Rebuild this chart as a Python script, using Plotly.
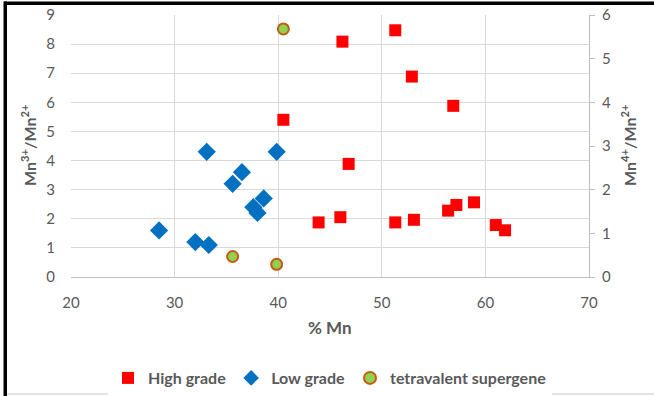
import plotly.graph_objects as go

# High grade (Mn4+/Mn2+, right axis)
high_mn = [40.5, 43.9, 46.0, 46.2, 46.8, 51.3, 51.3, 52.9, 53.1, 56.4, 56.9, 57.2, 58.9, 61.0, 61.9]
high_ratio = [3.6, 1.25, 1.37, 5.39, 2.59, 5.65, 1.25, 4.59, 1.31, 1.52, 3.92, 1.65, 1.71, 1.19, 1.07]

# Low grade (Mn3+/Mn2+, left axis)
low_mn = [28.5, 32.0, 33.3, 33.1, 35.6, 36.5, 37.6, 38.0, 38.6, 39.85]
low_ratio = [1.6, 1.2, 1.1, 4.3, 3.2, 3.6, 2.4, 2.2, 2.7, 4.3]

# Tetravalent supergene (right axis)
sup_mn = [35.6, 39.85, 40.5]
sup_ratio = [0.47, 0.29, 5.68]

grey = "#595959"
font = "Lato, 'Open Sans', sans-serif"

fig = go.Figure()
fig.add_trace(go.Scatter(
    x=high_mn, y=high_ratio, yaxis="y2", mode="markers", name="High grade",
    marker=dict(symbol="square", size=12, color="#ff0000"),
))
fig.add_trace(go.Scatter(
    x=low_mn, y=low_ratio, mode="markers", name="Low grade",
    marker=dict(symbol="diamond", size=14, color="#0070c0"),
))
fig.add_trace(go.Scatter(
    x=sup_mn, y=sup_ratio, yaxis="y2", mode="markers", name="tetravalent supergene",
    marker=dict(symbol="circle", size=11, color="#92d050",
                line=dict(color="#c55a11", width=2)),
))

# pixel -> paper helpers (plot area spans x 71..589, y 15..277)
W, H = 518.0, 262.0
def px(x):
    return (x - 71) / W
def py(y):
    return (277 - y) / H

# chart frame: black top/left edge, grey bottom edge
shapes = [
    dict(type="rect", xref="paper", yref="paper", x0=px(4), x1=px(654), y0=py(1.5), y1=py(5),
         line=dict(width=0), fillcolor="black", layer="above"),
    dict(type="rect", xref="paper", yref="paper", x0=px(3.5), x1=px(7), y0=py(1.5), y1=py(396),
         line=dict(width=0), fillcolor="black", layer="above"),
    dict(type="line", xref="paper", yref="paper", x0=px(7), x1=px(654), y0=py(394), y1=py(394),
         line=dict(color="#c8c8c8", width=1)),
]

title_font = dict(size=16, color=grey, family=font)
annotations = [
    dict(text="<b>% Mn</b>", xref="paper", yref="paper", x=px(330), y=py(327),
         xanchor="center", yanchor="middle",
         showarrow=False, font=dict(size=17, color=grey, family=font)),
    dict(text="<b>Mn<sup>3+</sup>/Mn<sup>2+</sup></b>", xref="paper", yref="paper",
         x=px(28), y=py(146), xanchor="center", yanchor="middle",
         textangle=-90, showarrow=False, font=title_font),
    dict(text="<b>Mn<sup>4+</sup>/Mn<sup>2+</sup></b>", xref="paper", yref="paper",
         x=px(628), y=py(146), xanchor="center", yanchor="middle",
         textangle=-90, showarrow=False, font=title_font),
]

fig.update_layout(
    width=654, height=396,
    margin=dict(l=71, r=65, t=15, b=119, autoexpand=False),
    paper_bgcolor="white", plot_bgcolor="white",
    font=dict(family=font, color=grey, size=15),
    showlegend=True,
    legend=dict(orientation="h", x=0.5, xanchor="center", y=py(378), yanchor="middle",
                font=dict(size=16, color=grey, family=font, weight="bold"),
                itemsizing="constant", itemwidth=30),
    shapes=shapes,
    annotations=annotations,
    xaxis=dict(
        range=[20, 70], dtick=10, showgrid=True, gridcolor="#d9d9d9",
        showline=True, linecolor="#bfbfbf", zeroline=False, automargin=False,
        ticks="", ticklabelstandoff=12, tickfont=dict(size=15, color=grey),
    ),
    yaxis=dict(
        range=[0, 9], dtick=1, showgrid=True, gridcolor="#d9d9d9",
        zeroline=False, showline=False, ticks="", automargin=False,
        ticklabelstandoff=15, tickfont=dict(size=15, color=grey),
    ),
    yaxis2=dict(
        range=[0, 6], dtick=1, overlaying="y", side="right", showgrid=False,
        zeroline=False, showline=True, linecolor="#bfbfbf", automargin=False,
        ticks="outside", ticklen=5, tickcolor="#bfbfbf", ticklabelstandoff=4,
        tickfont=dict(size=15, color=grey),
    ),
)

# drop the browser's default body margin so the figure sits at the page origin
fig.write_html("out.html", config={"displayModeBar": False},
               post_script="document.body.style.margin='0';")
